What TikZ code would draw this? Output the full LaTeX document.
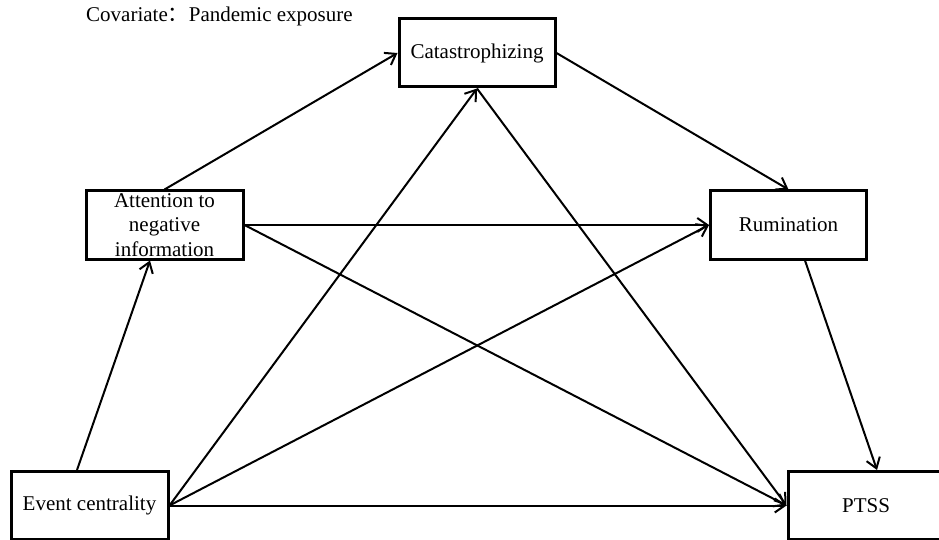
\documentclass[tikz,border=0pt]{standalone}
\usepackage{fontspec}
\setmainfont{Liberation Serif}
\newfontfamily\cjk{Noto Sans CJK SC}
\usetikzlibrary{arrows.meta}
\begin{document}
\begin{tikzpicture}[x=1pt,y=-1pt,
  box/.style={draw, line width=3pt, minimum width=156pt, minimum height=68pt,
    inner sep=0pt, font=\fontsize{21}{24.5}\selectfont, align=center},
  conn/.style={line width=2pt, -{Straight Barb[length=10pt,width=14pt]}}]
\clip (0,0) rectangle (939,540);
\useasboundingbox (0,0) rectangle (939,540);
\node[anchor=base west, font=\fontsize{21}{24}\selectfont, inner sep=0pt] (cov) at (86,22)
  {Covariate{\cjk ：}Pandemic exposure};
\node[box] (cat) at (477,53) {Catastrophizing};
\node[box, minimum width=157pt] (att) at (164.5,225) {Attention to\\negative\\information};
\node[box] (rum) at (788.5,225) {Rumination};
\node[box, minimum width=157pt] (ev) at (89.5,505.5) {Event centrality};
\node[box] (ptss) at (866,505.5) {PTSS};
\draw[conn] (att.north) -- (cat.west);
\draw[conn] ([xshift=-12.5pt]ev.north) -- ([xshift=-14.5pt]att.south);
\draw[conn] (att.east) -- (rum.west);
\draw[conn] (att.east) -- (ptss.west);
\draw[conn] (cat.east) -- (rum.north);
\draw[conn] (cat.south) -- (ptss.west);
\draw[conn] (ev.east) -- (cat.south);
\draw[conn] (ev.east) -- (rum.west);
\draw[conn] (ev.east) -- (ptss.west);
\draw[conn] ([xshift=16.5pt]rum.south) -- ([xshift=11pt]ptss.north);
\end{tikzpicture}
\end{document}
